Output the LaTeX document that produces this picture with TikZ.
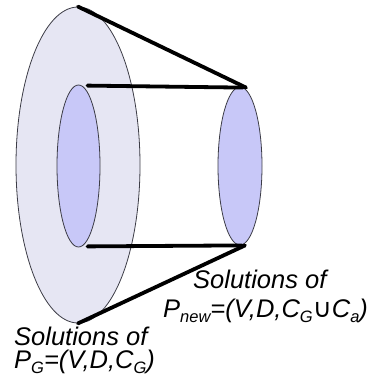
\documentclass[tikz,border=0pt]{standalone}
\usepackage{fontspec}
\setmainfont{Liberation Sans}
\newfontfamily\symfont{DejaVu Sans}
\usetikzlibrary{shapes.geometric}
\definecolor{outerfill}{RGB}{230,230,243}
\definecolor{innerfill}{RGB}{200,200,248}
\definecolor{edgegray}{RGB}{60,60,70}
\newcommand{\mysub}[1]{\raisebox{-5pt}{\fontsize{16.5}{16.5}\selectfont #1}}
\tikzset{
  disc/.style={ellipse, draw=edgegray, line width=0.8pt, inner sep=0pt},
  bar/.style={line width=3.8pt, line cap=round},
  lbl/.style={anchor=base west, inner sep=0pt, font=\fontsize{25.5}{25.5}\selectfont\itshape}
}
\begin{document}
\begin{tikzpicture}[x=1pt,y=-1pt]
\useasboundingbox (0,0) rectangle (372,385);
\node[disc, fill=outerfill, minimum width=124pt, minimum height=316pt] (outer) at (78,165) {};
\node[disc, fill=innerfill, minimum width=43pt, minimum height=162pt] (inner) at (78.5,166) {};
\node[disc, fill=innerfill, minimum width=44pt, minimum height=158pt] (right) at (240,166) {};
\coordinate (rt) at ([xshift=6pt,yshift=-1pt]right.north);
\coordinate (rb) at ([xshift=5pt,yshift=0pt]right.south);
\draw[bar] (outer.north) -- (rt);
\draw[bar] (outer.south) -- (rb);
\draw[bar] ([xshift=9pt,yshift=-1pt]inner.north) -- ([xshift=3pt,yshift=-1pt]right.north);
\draw[bar] ([xshift=9pt,yshift=1pt]inner.south) -- ([xshift=2pt]right.south);
\node[lbl] (l1) at (14,345) {Solutions of};
\node[lbl] (l2) at (14,368) {P\mysub{G}=(V,D,C\mysub{G})};
\node[lbl] (r1) at (193,288) {Solutions of};
\node[lbl] (r2) at (163,317) {P\mysub{new}=(V,D,C\mysub{G}{\symfont\fontsize{26}{26}\selectfont ∪}C\mysub{a})};
\end{tikzpicture}
\end{document}
